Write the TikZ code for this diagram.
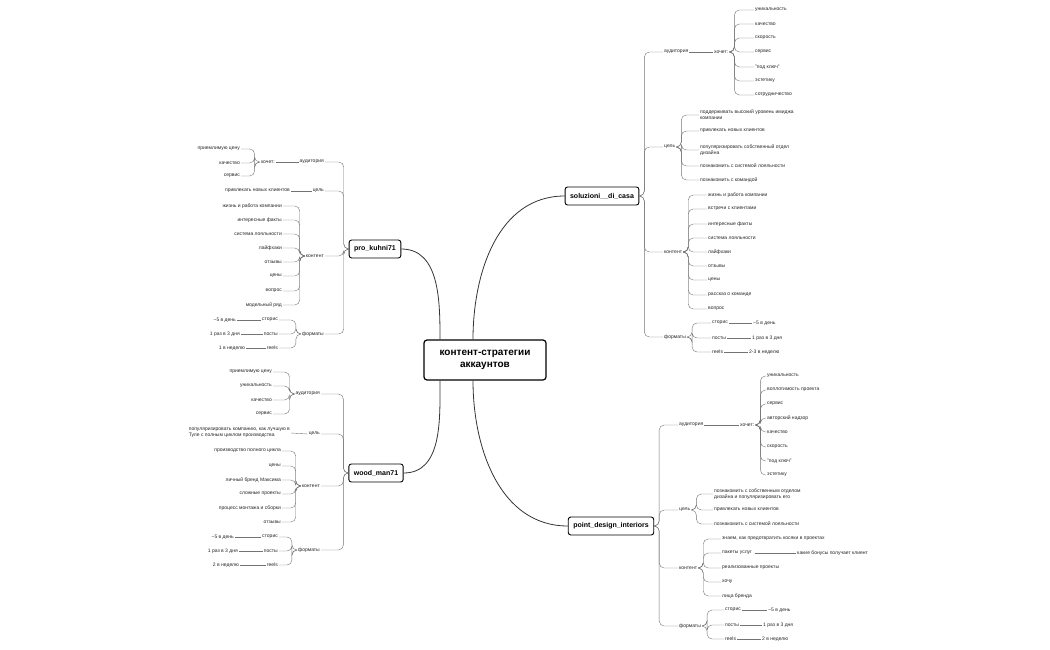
\documentclass[tikz,border=0pt]{standalone}
\usepackage{fontspec}
\setmainfont{Liberation Sans}
\begin{document}
\begin{tikzpicture}[x=1pt,y=-1pt,
  t/.style={font=\fontsize{5}{6}\selectfont,inner sep=1pt,text=black!85,align=left},
  r/.style={t,anchor=west},
  l/.style={t,anchor=east,align=right},
  hub/.style={draw,rounded corners=2.5pt,line width=0.9pt,font=\fontsize{7}{8}\selectfont\bfseries,inner xsep=5pt,minimum height=18pt},
  ln/.style={draw=black!55,line width=0.4pt,rounded corners=5pt},
  main/.style={draw=black!80,line width=0.8pt}]
\useasboundingbox (0,0) rectangle (1050,650);
\newcommand{\rlink}[2]{\draw[ln] (#1.east) -- ++(5,0) |- (#2.west);}
\newcommand{\llink}[2]{\draw[ln] (#1.west) -- ++(-5,0) |- (#2.east);}
\newcommand{\rs}[2]{\draw[ln] (#1.east) -- (#2.west);}
\newcommand{\ls}[2]{\draw[ln] (#1.west) -- (#2.east);}

\node[draw,rounded corners=3pt,line width=1.2pt,font=\fontsize{10}{12}\selectfont\bfseries,align=center,minimum width=122pt,minimum height=40pt] (c) at (485,360) {контент-стратегии\\аккаунтов};
\node[hub] (S) at (602,196) {soluzioni\_\_di\_casa};
\node[hub] (P) at (611,526) {point\_design\_interiors};
\node[hub] (K) at (375,249) {pro\_kuhni71};
\node[hub] (W) at (376,473) {wood\_man71};
\draw[main] (c.north)++(-12,0) to[out=90,in=180] (S.west);
\draw[main] (c.south)++(-12,0) to[out=-90,in=180] (P.west);
\draw[main] (c.north)++(-45,0) to[out=90,in=0] (K.east);
\draw[main] (c.south)++(-45,0) to[out=-90,in=0] (W.east);

% soluzioni
\node[r] (s1) at (663,52) {аудитория};
\node[r] (s2) at (663,147) {цель};
\node[r] (s3) at (663,252) {контент};
\node[r] (s4) at (663,337) {форматы};
\foreach \n in {s1,s2,s3,s4} {\rlink{S}{\n}}
\node[r] (sh) at (713,52) {хочет:};
\rs{s1}{sh}
\foreach \y/\tx [count=\i] in {10/уникальность,24/качество,38/скорость,52/сервис,67/"под ключ",81/эстетику,95/сотрудничество}
  {\node[r] (sh\i) at (754,\y) {\tx}; \rlink{sh}{sh\i}}
\foreach \y/\tx [count=\i] in {115/{поддерживать высокий уровень имиджа\\компании},131/привлекать новых клиентов,150/{популяризировать собственный отдел\\дизайна},166/познакомить с системой лояльности,180/познакомить с командой}
  {\node[r] (sc\i) at (699,\y) {\tx}; \rlink{s2}{sc\i}}
\foreach \y/\tx [count=\i] in {195/жизнь и работа компании,209/встречи с клиентами,224/интересные факты,238/система лояльности,252/лайфхаки,266/отзывы,280/цены,295/рассказ о команде,309/вопрос/ответ}
  {\node[r] (sk\i) at (707,\y) {\tx}; \rlink{s3}{sk\i}}
\foreach \y/\a/\xb/\b [count=\i] in {323/сторис/752/\textasciitilde5 в день,338/посты/751/1 раз в 3 дня,352/reels/748/2-3 в неделю}
  {\node[r] (sf\i) at (711,\y) {\a}; \rlink{s4}{sf\i}
   \node[r] (sg\i) at (\xb,\y) {\b}; \rs{sf\i}{sg\i}}

% point design
\node[r] (p1) at (678,425) {аудитория};
\node[r] (p2) at (678,510) {цель};
\node[r] (p3) at (678,568) {контент};
\node[r] (p4) at (678,626) {форматы};
\foreach \n in {p1,p2,p3,p4} {\rlink{P}{\n}}
\node[r] (ph) at (739,425) {хочет:};
\rs{p1}{ph}
\foreach \y/\tx [count=\i] in {376/уникальность,390/воплотимость проекта,404/сервис,418/авторский надзор,432/качество,447/скорость,461/"под ключ",475/эстетику}
  {\node[r] (ph\i) at (766,\y) {\tx}; \rlink{ph}{ph\i}}
\foreach \y/\tx [count=\i] in {494/{познакомить с собственным отделом\\дизайна и популяризировать его},510/привлекать новых клиентов,524/познакомить с системой лояльности}
  {\node[r] (pc\i) at (713,\y) {\tx}; \rlink{p2}{pc\i}}
\foreach \y/\tx [count=\i] in {539/{знаем, как предотвратить косяки в проектах},553/пакеты услуг / цены,568/реализованные проекты,582/хочу / могу,596/лица бренда}
  {\node[r] (pk\i) at (721,\y) {\tx}; \rlink{p3}{pk\i}}
\node[r] (pb) at (796,553) {какие бонусы получает клиент};
\rs{pk2}{pb}
\foreach \y/\a/\xb/\b [count=\i] in {610/сторис/767/\textasciitilde5 в день,625/посты/762/1 раз в 3 дня,639/reels/761/2 в неделю}
  {\node[r] (pf\i) at (724,\y) {\a}; \rlink{p4}{pf\i}
   \node[r] (pg\i) at (\xb,\y) {\b}; \rs{pf\i}{pg\i}}

% pro_kuhni
\node[l] (k1) at (325,162) {аудитория};
\node[l] (k2) at (325,191) {цель};
\node[l] (k3) at (325,256) {контент};
\node[l] (k4) at (325,334) {форматы};
\foreach \n in {k1,k2,k3,k4} {\llink{K}{\n}}
\node[l] (kh) at (276,162) {хочет:};
\ls{k1}{kh}
\foreach \y/\tx [count=\i] in {149/приемлимую цену,163/качество,176/сервис}
  {\node[l] (kh\i) at (241,\y) {\tx}; \llink{kh}{kh\i}}
\node[l] (kc1) at (291,191) {привлекать новых клиентов};
\ls{k2}{kc1}
\foreach \y/\tx [count=\i] in {206/жизнь и работа компании,220/интересные факты,234/система лояльности,248/лайфхаки,262/отзывы,276/цены,291/вопрос/ответ,305/модельный ряд}
  {\node[l] (kk\i) at (283,\y) {\tx}; \llink{k3}{kk\i}}
\foreach \y/\a/\xb/\b [count=\i] in {320/сторис/237/\textasciitilde5 в день,334/посты/241/1 раз в 3 дня,348/reels/246/1 в неделю}
  {\node[l] (kf\i) at (279,\y) {\a}; \llink{k4}{kf\i}
   \node[l] (kg\i) at (\xb,\y) {\b}; \ls{kf\i}{kg\i}}

% wood_man
\node[l] (w1) at (321,394) {аудитория};
\node[l] (w2) at (321,434) {цель};
\node[l] (w3) at (321,486) {контент};
\node[l] (w4) at (321,550) {форматы};
\foreach \n in {w1,w2,w3,w4} {\llink{W}{\n}}
\foreach \y/\tx [count=\i] in {372/приемлимую цену,386/уникальность,400/качество,414/сервис}
  {\node[l] (wh\i) at (273,\y) {\tx}; \llink{w1}{wh\i}}
\node[l,align=left] (wc1) at (291,433) {популяризировать компанию, как лучшую в\\Туле с полным циклом производства};
\ls{w2}{wc1}
\foreach \y/\tx [count=\i] in {451/производство полного цикла,466/цены,480/личный бренд Максима,494/сложные проекты,508/процесс монтажа и сборки,522/отзывы}
  {\node[l] (wk\i) at (282,\y) {\tx}; \llink{w3}{wk\i}}
\foreach \y/\a/\xb/\b [count=\i] in {537/сторис/235/\textasciitilde5 в день,551/посты/239/1 раз в 3 дня,565/reels/240/2 в неделю}
  {\node[l] (wf\i) at (279,\y) {\a}; \llink{w4}{wf\i}
   \node[l] (wg\i) at (\xb,\y) {\b}; \ls{wf\i}{wg\i}}
\end{tikzpicture}
\end{document}
